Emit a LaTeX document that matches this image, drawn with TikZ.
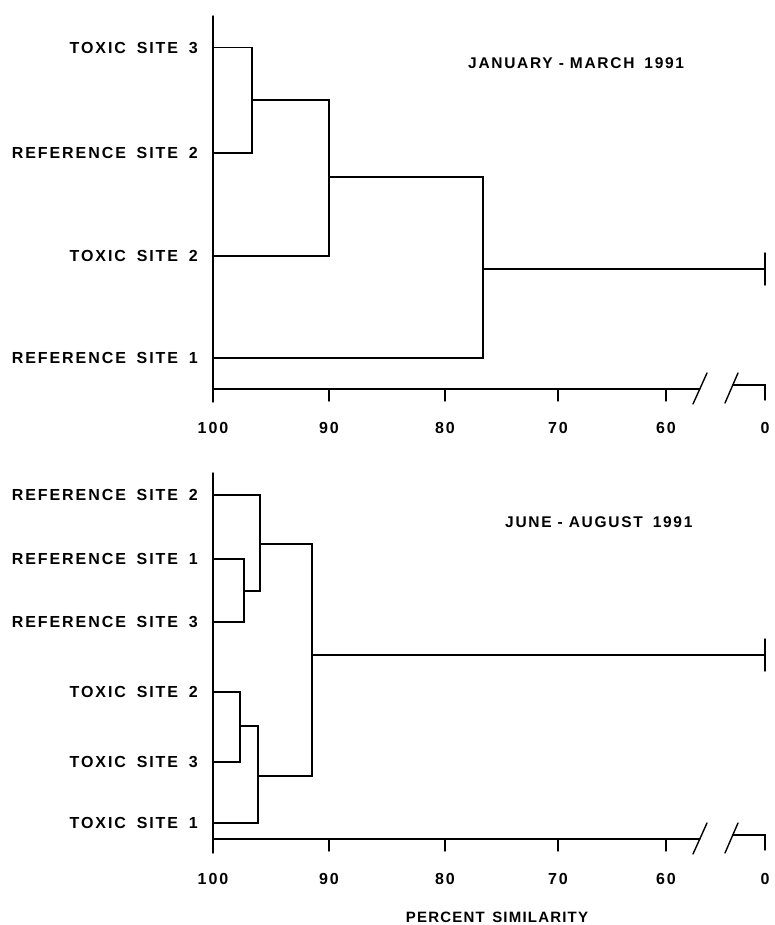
\documentclass[tikz,border=0pt]{standalone}
\usepackage{fontspec}
\newfontfamily\labfont{Liberation Sans}[LetterSpace=12,WordSpace=1.7]
\newfontfamily\titfont{Liberation Sans}[LetterSpace=11]
\newfontfamily\axfont{Liberation Sans}[LetterSpace=8,WordSpace=1.4]
\begin{document}
\begin{tikzpicture}[x=1pt,y=-1pt,
  ln/.style={line width=1.4pt, line cap=round, line join=miter},
  site/.style={anchor=east, inner sep=0pt, font=\labfont\bfseries\fontsize{16}{18}\selectfont},
  num/.style={anchor=center, inner sep=0pt, font=\labfont\bfseries\fontsize{16}{18}\selectfont},
  ttl/.style={anchor=west, inner sep=0pt, font=\titfont\bfseries\fontsize{15.5}{18}\selectfont},
  axl/.style={anchor=center, inner sep=0pt, font=\axfont\bfseries\fontsize{15}{18}\selectfont}]
\useasboundingbox (0,0) rectangle (774,925);
\fill[white] (0,0) rectangle (774,925);

% ================= TOP PANEL =================
\node[site] (lt3) at (198,47.7) {TOXIC SITE 3};
\node[site] (lr2) at (198,153) {REFERENCE SITE 2};
\node[site] (lt2) at (198,256) {TOXIC SITE 2};
\node[site] (lr1) at (198,358) {REFERENCE SITE 1};
\node[ttl] (ttop) at (468,63) {JANUARY - MARCH\hspace{4pt} 1991};

\coordinate (t3) at (213,47.7);
\coordinate (r2) at (213,153);
\coordinate (t2) at (213,256);
\coordinate (r1) at (213,358);
\coordinate (A1) at (252,100);
\coordinate (B1) at (329,177);
\coordinate (C1) at (483,269);
\coordinate (E1) at (765,269);

\draw[ln] (t3) -| (A1) |- (r2);
\draw[ln] (A1) -| (B1) |- (t2);
\draw[ln] (B1) -| (C1) |- (r1);
\draw[ln] (C1) -- (E1);
\draw[ln] (765,253) -- (765,285);

% axis
\coordinate (ax1top) at (213,16);
\coordinate (ax1bot) at (213,402);
\draw[ln] (ax1top) -- (ax1bot);
\draw[ln] (213,389) -- (699.8,389);
\draw[ln] (693,404) -- (707,373);
\draw[ln] (725,403) -- (738,373);
\draw[ln] (732.8,385) -- (765,385) -- (765,400);
\foreach \xx in {329,445,558,666} \draw[ln] (\xx,389) -- (\xx,401);
\node[num] (n100a) at (213,428) {100};
\node[num] (n90a) at (329,428) {90};
\node[num] (n80a) at (445,428) {80};
\node[num] (n70a) at (558,428) {70};
\node[num] (n60a) at (666,428) {60};
\node[num] (n0a) at (765,428) {0};

% ================= BOTTOM PANEL =================
\node[site] (mr2) at (198,495) {REFERENCE SITE 2};
\node[site] (mr1) at (198,559) {REFERENCE SITE 1};
\node[site] (mr3) at (198,622) {REFERENCE SITE 3};
\node[site] (mt2) at (198,692) {TOXIC SITE 2};
\node[site] (mt3) at (198,762) {TOXIC SITE 3};
\node[site] (mt1) at (198,823) {TOXIC SITE 1};
\node[ttl] (tbot) at (505,522) {JUNE - AUGUST\hspace{4pt} 1991};

\coordinate (R2) at (213,495);
\coordinate (R1) at (213,559);
\coordinate (R3) at (213,622);
\coordinate (T2) at (213,692);
\coordinate (T3) at (213,762);
\coordinate (T1) at (213,823);
\coordinate (a2) at (244,591);
\coordinate (b2) at (260,544);
\coordinate (c2) at (240,726);
\coordinate (d2) at (258,776);
\coordinate (e2) at (312,655);
\coordinate (E2) at (765,655);

\draw[ln] (R1) -| (a2) |- (R3);
\draw[ln] (R2) -| (b2) |- (a2);
\draw[ln] (T2) -| (c2) |- (T3);
\draw[ln] (c2) -| (d2) |- (T1);
\draw[ln] (b2) -| (e2) |- (d2);
\draw[ln] (e2) -- (E2);
\draw[ln] (765,639) -- (765,671);

% axis
\coordinate (ax2top) at (213,473);
\coordinate (ax2bot) at (213,853);
\draw[ln] (ax2top) -- (ax2bot);
\draw[ln] (213,839) -- (699.8,839);
\draw[ln] (693,854) -- (707,823);
\draw[ln] (725,853) -- (738,823);
\draw[ln] (732.8,835) -- (765,835) -- (765,850);
\foreach \xx in {329,445,558,666} \draw[ln] (\xx,839) -- (\xx,851);
\node[num] (n100b) at (213,879) {100};
\node[num] (n90b) at (329,879) {90};
\node[num] (n80b) at (445,879) {80};
\node[num] (n70b) at (558,879) {70};
\node[num] (n60b) at (666,879) {60};
\node[num] (n0b) at (765,879) {0};

\node[axl] (xlab) at (497,917) {PERCENT SIMILARITY};
\end{tikzpicture}
\end{document}
